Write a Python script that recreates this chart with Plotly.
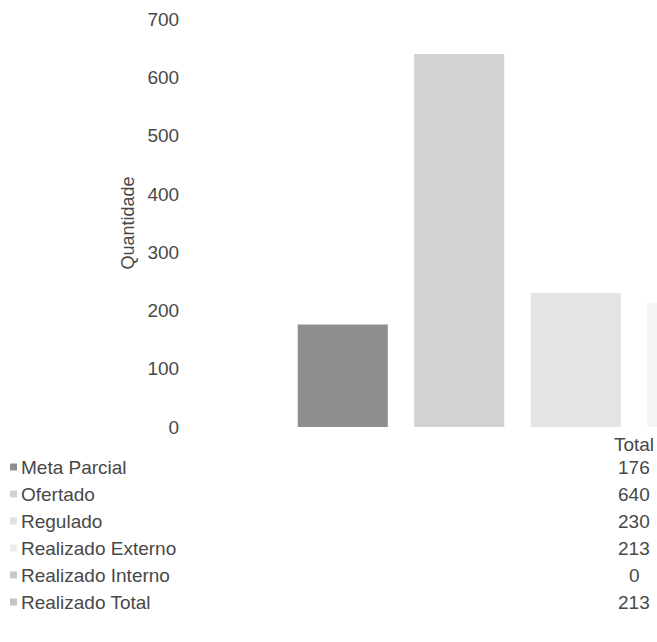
import plotly.graph_objects as go

category = ["Total"]
series_names = ["Meta Parcial", "Ofertado", "Regulado", "Realizado Externo", "Realizado Interno", "Realizado Total"]
series_values = [176, 640, 230, 213, 0, 213]
series_colors = ["#8e8e8e", "#d2d2d2", "#e4e4e4", "#f4f4f4", "#d0d0d0", "#d4d4d4"]
swatch_colors = ["#8e8e8e", "#d2d2d2", "#e0e0e0", "#ececec", "#c8c8c8", "#c4c4c4"]
y_ticks = [0, 100, 200, 300, 400, 500, 600, 700]

W, H = 657, 642
L, R, T, B = 188, 0, 19, 215
PW = W - L - R
PH = H - T - B
FONT = "Liberation Sans, Arial, sans-serif"
TXT = "#484848"
FS = 19

# group centre pixel & category unit width
GC = 634.0
U = 873.75
x_range = [(L - GC) / U, (W - R - GC) / U]

def px_x(p):
    return (p - L) / PW

def px_y(p):
    return (H - B - p) / PH

fig = go.Figure()
for name, val, col in zip(series_names, series_values, series_colors):
    fig.add_trace(go.Bar(x=category, y=[val], name=name, marker=dict(color=col, line=dict(width=0)),
                         showlegend=False))

row_y = [467, 494, 521, 548, 575, 602]
annotations = []
shapes = []
for i, (name, val, sc) in enumerate(zip(series_names, series_values, swatch_colors)):
    yp = px_y(row_y[i])
    annotations.append(dict(x=px_x(19), y=yp, xref="paper", yref="paper", text=name, showarrow=False,
                            xanchor="left", yanchor="middle", font=dict(family=FONT, size=FS, color=TXT)))
    annotations.append(dict(x=0, y=yp, xref="x", yref="paper", text=str(val), showarrow=False,
                            xanchor="center", yanchor="middle", font=dict(family=FONT, size=FS, color=TXT)))
    shapes.append(dict(type="rect", xref="paper", yref="paper", x0=px_x(10), x1=px_x(17),
                       y0=px_y(row_y[i] + 3.5), y1=px_y(row_y[i] - 3.5),
                       fillcolor=sc, line=dict(width=0)))

fig.update_layout(
    width=W, height=H,
    margin=dict(l=L, r=R, t=T, b=B, pad=0),
    paper_bgcolor="white", plot_bgcolor="white",
    barmode="group", bargap=0.2, bargroupgap=0.227,
    xaxis=dict(range=x_range, showgrid=False, zeroline=False, showline=False, ticks="",
               ticklabelstandoff=4,
               tickfont=dict(family=FONT, size=FS, color=TXT)),
    yaxis=dict(range=[0, 700], tickvals=y_ticks, showgrid=False, zeroline=False, showline=False,
               ticks="outside", ticklen=4, tickcolor="white",
               tickfont=dict(family=FONT, size=FS, color=TXT),
               title=dict(text="Quantidade", font=dict(family=FONT, size=18, color=TXT), standoff=8)),
    annotations=annotations, shapes=shapes,
)

fig.write_html("out.html", config={"displayModeBar": False},
               post_script="document.body.style.margin='0';document.body.style.padding='0';")
